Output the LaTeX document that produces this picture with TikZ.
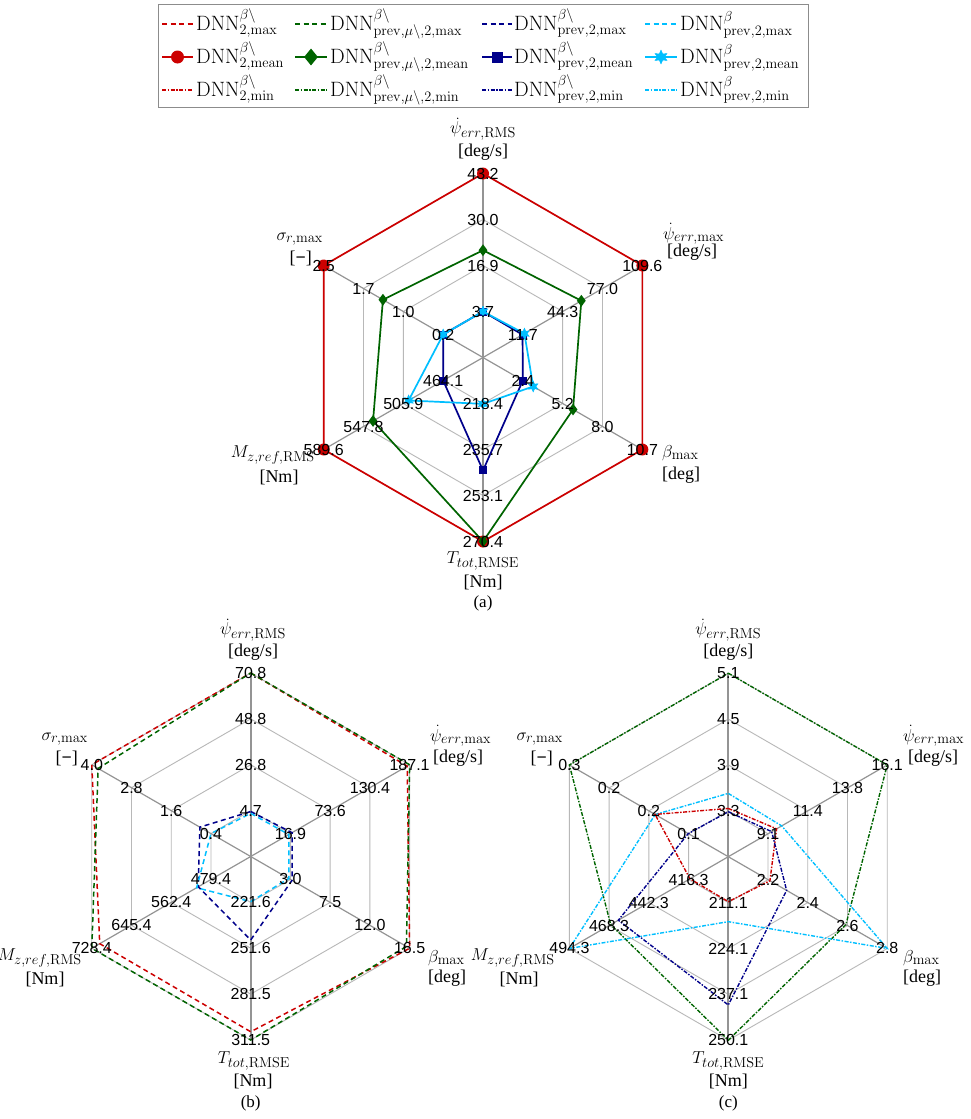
\documentclass[tikz,border=0pt]{standalone}
\usepackage[no-math]{fontspec}
\setmainfont{Liberation Serif}
\newfontfamily\tickfont{Liberation Sans}
\usetikzlibrary{shapes.geometric}
\definecolor{cred}{RGB}{204,0,0}
\definecolor{cgreen}{RGB}{0,100,0}
\definecolor{cnavy}{RGB}{0,0,139}
\definecolor{csky}{RGB}{0,191,255}
\tikzset{
 ringline/.style={draw=black!28, line width=0.9pt},
 spokeline/.style={draw=black!42, line width=1.2pt},
 vspokeline/.style={draw=black!42, line width=2pt},
 ticklab/.style={font=\tickfont\fontsize{16}{16}\selectfont, inner sep=0pt},
 axlab/.style={font=\fontsize{19}{21}\selectfont, inner sep=0pt},
 unitlab/.style={font=\fontsize{18}{20}\selectfont, inner sep=0pt},
 leglab/.style={anchor=base west, inner sep=0pt, font=\fontsize{20}{22}\selectfont},
 subcap/.style={font=\fontsize{17}{19}\selectfont, inner sep=0pt},
 meanline/.style={line width=1.7pt},
 maxline/.style={line width=1.5pt, dash pattern=on 5pt off 3.5pt},
 minline/.style={line width=1.4pt, dash pattern=on 4pt off 1.5pt on 1.5pt off 1.5pt},
 mcircle/.style={circle, fill=cred, inner sep=0pt, minimum size=12pt},
 mdiamond/.style={diamond, fill=cgreen, inner sep=0pt, minimum width=9pt, minimum height=12pt},
 msquare/.style={rectangle, fill=cnavy, inner sep=0pt, minimum size=8pt},
 mstar/.style={star, star points=6, star point ratio=2, fill=csky, draw=csky, inner sep=0pt, minimum size=11pt}
}
\newcommand{\dimless}{{[}\textbf{\char"2212}{]}}
\newcommand{\radargrid}[1]{%
  \foreach \f in {0.25,0.5,0.75,1}{
    \draw[ringline] (-90:{\f*#1}) -- (-30:{\f*#1}) -- (30:{\f*#1}) -- (90:{\f*#1}) -- (150:{\f*#1}) -- (210:{\f*#1}) -- cycle;}
  \draw[spokeline] (-30:#1) -- (150:#1);
  \draw[spokeline] (30:#1) -- (210:#1);
  \draw[vspokeline] (-90:#1) -- (90:#1);
}
\newcommand{\radpoly}[8]{%
  \coordinate (q0) at (-90:{#3*#2});
  \coordinate (q1) at (-30:{#4*#2});
  \coordinate (q2) at (30:{#5*#2});
  \coordinate (q3) at (90:{#6*#2});
  \coordinate (q4) at (150:{#7*#2});
  \coordinate (q5) at (210:{#8*#2});
  \draw[#1] (q0) -- (q1) -- (q2) -- (q3) -- (q4) -- (q5) -- cycle;}
\newcommand{\putmarks}[1]{\foreach \k in {0,...,5}{\node[#1] (m\k) at (q\k) {};}}
\newcommand{\axticks}[6]{%
  \node[ticklab] (ta) at (#1:{0.25*#2}) {#3};
  \node[ticklab] (tb) at (#1:{0.5*#2}) {#4};
  \node[ticklab] (tc) at (#1:{0.75*#2}) {#5};
  \node[ticklab] (td) at (#1:{#2}) {#6};}
\begin{document}
\begin{tikzpicture}[x=1pt,y=-1pt]
\useasboundingbox[fill=white] (0,0) rectangle (970,1119);
% ---------------- legend
\draw[black!45, line width=1pt] (158,4) rectangle (808,107);
% col 1
\draw[cred, maxline] (162,24) -- (193,24);
\node[leglab] (l11) at (196,30.5) {$\mathrm{DNN}^{\beta\backslash}_{2,\mathrm{max}}$};
\draw[cred, meanline, line width=2.2pt] (162,57) -- (193,57);
\node[mcircle, minimum size=13pt] (lm1) at (177.5,57) {};
\node[leglab] (l12) at (196,63.5) {$\mathrm{DNN}^{\beta\backslash}_{2,\mathrm{mean}}$};
\draw[cred, minline] (162,90) -- (193,90);
\node[leglab] (l13) at (196,96.5) {$\mathrm{DNN}^{\beta\backslash}_{2,\mathrm{min}}$};
% col 2
\draw[cgreen, maxline] (295,24) -- (327,24);
\node[leglab] (l21) at (330,30.5) {$\mathrm{DNN}^{\beta\backslash}_{\mathrm{prev},\mu\backslash,2,\mathrm{max}}$};
\draw[cgreen, meanline, line width=2.2pt] (295,57) -- (327,57);
\node[mdiamond, minimum width=14pt, minimum height=17pt] (lm2) at (311,57) {};
\node[leglab] (l22) at (330,63.5) {$\mathrm{DNN}^{\beta\backslash}_{\mathrm{prev},\mu\backslash,2,\mathrm{mean}}$};
\draw[cgreen, minline] (295,90) -- (327,90);
\node[leglab] (l23) at (330,96.5) {$\mathrm{DNN}^{\beta\backslash}_{\mathrm{prev},\mu\backslash,2,\mathrm{min}}$};
% col 3
\draw[cnavy, maxline] (482,24) -- (512,24);
\node[leglab] (l31) at (514,30.5) {$\mathrm{DNN}^{\beta\backslash}_{\mathrm{prev},2,\mathrm{max}}$};
\draw[cnavy, meanline, line width=2.2pt] (482,57) -- (512,57);
\node[msquare, minimum size=11pt] (lm3) at (497,57) {};
\node[leglab] (l32) at (514,63.5) {$\mathrm{DNN}^{\beta\backslash}_{\mathrm{prev},2,\mathrm{mean}}$};
\draw[cnavy, minline] (482,90) -- (512,90);
\node[leglab] (l33) at (514,96.5) {$\mathrm{DNN}^{\beta\backslash}_{\mathrm{prev},2,\mathrm{min}}$};
% col 4
\draw[csky, maxline] (645,24) -- (677,24);
\node[leglab] (l41) at (680,30.5) {$\mathrm{DNN}^{\beta}_{\mathrm{prev},2,\mathrm{max}}$};
\draw[csky, meanline, line width=2.2pt] (645,57) -- (677,57);
\node[mstar, minimum size=14pt] (lm4) at (661,57) {};
\node[leglab] (l42) at (680,63.5) {$\mathrm{DNN}^{\beta}_{\mathrm{prev},2,\mathrm{mean}}$};
\draw[csky, minline] (645,90) -- (677,90);
\node[leglab] (l43) at (680,96.5) {$\mathrm{DNN}^{\beta}_{\mathrm{prev},2,\mathrm{min}}$};

% ---------------- chart (a)
\begin{scope}[shift={(483,357.5)}]
 \radargrid{184}
 \radpoly{cred,meanline}{184}{1}{1}{1}{1}{1}{1} \putmarks{mcircle}
 \radpoly{cgreen,meanline}{184}{0.583}{0.617}{0.565}{1}{0.69}{0.628} \putmarks{mdiamond}
 \radpoly{cnavy,meanline}{184}{0.25}{0.248}{0.25}{0.614}{0.25}{0.25} \putmarks{msquare}
 \radpoly{csky,meanline}{184}{0.25}{0.26}{0.315}{0.252}{0.467}{0.25} \putmarks{mstar}
 \axticks{-90}{184}{3.7}{16.9}{30.0}{43.2}
 \axticks{-30}{184}{11.7}{44.3}{77.0}{109.6}
 \axticks{30}{184}{2.4}{5.2}{8.0}{10.7}
 \axticks{90}{184}{218.4}{235.7}{253.1}{270.4}
 \axticks{150}{184}{464.1}{505.9}{547.8}{589.6}
 \axticks{210}{184}{0.2}{1.0}{1.7}{2.5}
\end{scope}
\node[axlab] (a0) at (483,129) {$\dot{\psi}_{err,\mathrm{RMS}}$};
\node[unitlab] (a0u) at (483,152) {[deg/s]};
\node[axlab, anchor=west] (a1) at (663,234) {$\dot{\psi}_{err,\mathrm{max}}$};
\node[unitlab, anchor=west] (a1u) at (667,252) {[deg/s]};
\node[axlab, anchor=west] (a2) at (662,453) {$\beta_{\mathrm{max}}$};
\node[unitlab, anchor=west] (a2u) at (662,475) {[deg]};
\node[axlab] (a3) at (483,561) {$T_{tot,\mathrm{RMSE}}$};
\node[unitlab] (a3u) at (483,582) {[Nm]};
\node[axlab, anchor=east] (a4) at (315,455) {$M_{z,ref,\mathrm{RMS}}$};
\node[unitlab] (a4u) at (279,477) {[Nm]};
\node[axlab, anchor=east] (a5) at (323,239) {$\sigma_{r,\mathrm{max}}$};
\node[unitlab, anchor=east] (a5u) at (312,258) {\dimless};
\node[subcap] (capa) at (483,603) {(a)};

% ---------------- chart (b)
\begin{scope}[shift={(250.7,856.5)}]
 \radargrid{183.5}
 \radpoly{cred,maxline}{183.5}{1}{0.985}{1}{0.955}{0.95}{1}
 \radpoly{cgreen,maxline}{183.5}{1}{1}{0.98}{1}{1}{0.96}
 \radpoly{cnavy,maxline}{183.5}{0.245}{0.26}{0.26}{0.455}{0.33}{0.32}
 \radpoly{csky,maxline}{183.5}{0.235}{0.24}{0.24}{0.246}{0.34}{0.25}
 \axticks{-90}{183.5}{4.7}{26.8}{48.8}{70.8}
 \axticks{-30}{183.5}{16.9}{73.6}{130.4}{187.1}
 \axticks{30}{183.5}{3.0}{7.5}{12.0}{16.5}
 \axticks{90}{183.5}{221.6}{251.6}{281.5}{311.5}
 \axticks{150}{183.5}{479.4}{562.4}{645.4}{728.4}
 \axticks{210}{183.5}{0.4}{1.6}{2.8}{4.0}
\end{scope}
\node[axlab] (b0) at (253,630) {$\dot{\psi}_{err,\mathrm{RMS}}$};
\node[unitlab] (b0u) at (253,652) {[deg/s]};
\node[axlab, anchor=west] (b1) at (430,736) {$\dot{\psi}_{err,\mathrm{max}}$};
\node[unitlab, anchor=west] (b1u) at (433,758) {[deg/s]};
\node[axlab, anchor=west] (b2) at (428,958) {$\beta_{\mathrm{max}}$};
\node[unitlab, anchor=west] (b2u) at (428,978) {[deg]};
\node[axlab] (b3) at (254,1061) {$T_{tot,\mathrm{RMSE}}$};
\node[unitlab] (b3u) at (253,1081) {[Nm]};
\node[axlab, anchor=east] (b4) at (82,958) {$M_{z,ref,\mathrm{RMS}}$};
\node[unitlab] (b4u) at (45,979) {[Nm]};
\node[axlab, anchor=east] (b5) at (88,739) {$\sigma_{r,\mathrm{max}}$};
\node[unitlab, anchor=east] (b5u) at (78,758) {\dimless};
\node[subcap] (capb) at (250.7,1103) {(b)};

% ---------------- chart (c)
\begin{scope}[shift={(728.3,856.7)}]
 \radargrid{183.5}
 \radpoly{cgreen,minline}{183.5}{1}{1}{0.74}{1}{0.74}{1}
 \radpoly{csky,minline}{183.5}{0.345}{0.336}{1}{0.354}{1}{0.46}
 \radpoly{cred,minline}{183.5}{0.263}{0.304}{0.262}{0.245}{0.241}{0.461}
 \radpoly{cnavy,minline}{183.5}{0.245}{0.273}{0.367}{0.808}{0.692}{0.252}
 \axticks{-90}{183.5}{3.3}{3.9}{4.5}{5.1}
 \axticks{-30}{183.5}{9.1}{11.4}{13.8}{16.1}
 \axticks{30}{183.5}{2.2}{2.4}{2.6}{2.8}
 \axticks{90}{183.5}{211.1}{224.1}{237.1}{250.1}
 \axticks{150}{183.5}{416.3}{442.3}{468.3}{494.3}
 \axticks{210}{183.5}{0.1}{0.2}{0.2}{0.3}
\end{scope}
\node[axlab] (c0) at (728.3,630) {$\dot{\psi}_{err,\mathrm{RMS}}$};
\node[unitlab] (c0u) at (728.3,652) {[deg/s]};
\node[axlab, anchor=west] (c1) at (903,736) {$\dot{\psi}_{err,\mathrm{max}}$};
\node[unitlab, anchor=west] (c1u) at (908,758) {[deg/s]};
\node[axlab, anchor=west] (c2) at (903,958) {$\beta_{\mathrm{max}}$};
\node[unitlab, anchor=west] (c2u) at (903,978) {[deg]};
\node[axlab] (c3) at (728.3,1061) {$T_{tot,\mathrm{RMSE}}$};
\node[unitlab] (c3u) at (728.3,1081) {[Nm]};
\node[axlab, anchor=east] (c4) at (555,958) {$M_{z,ref,\mathrm{RMS}}$};
\node[unitlab] (c4u) at (519,979) {[Nm]};
\node[axlab, anchor=east] (c5) at (563,739) {$\sigma_{r,\mathrm{max}}$};
\node[unitlab, anchor=east] (c5u) at (553,758) {\dimless};
\node[subcap] (capc) at (728.3,1103) {(c)};
\end{tikzpicture}
\end{document}
